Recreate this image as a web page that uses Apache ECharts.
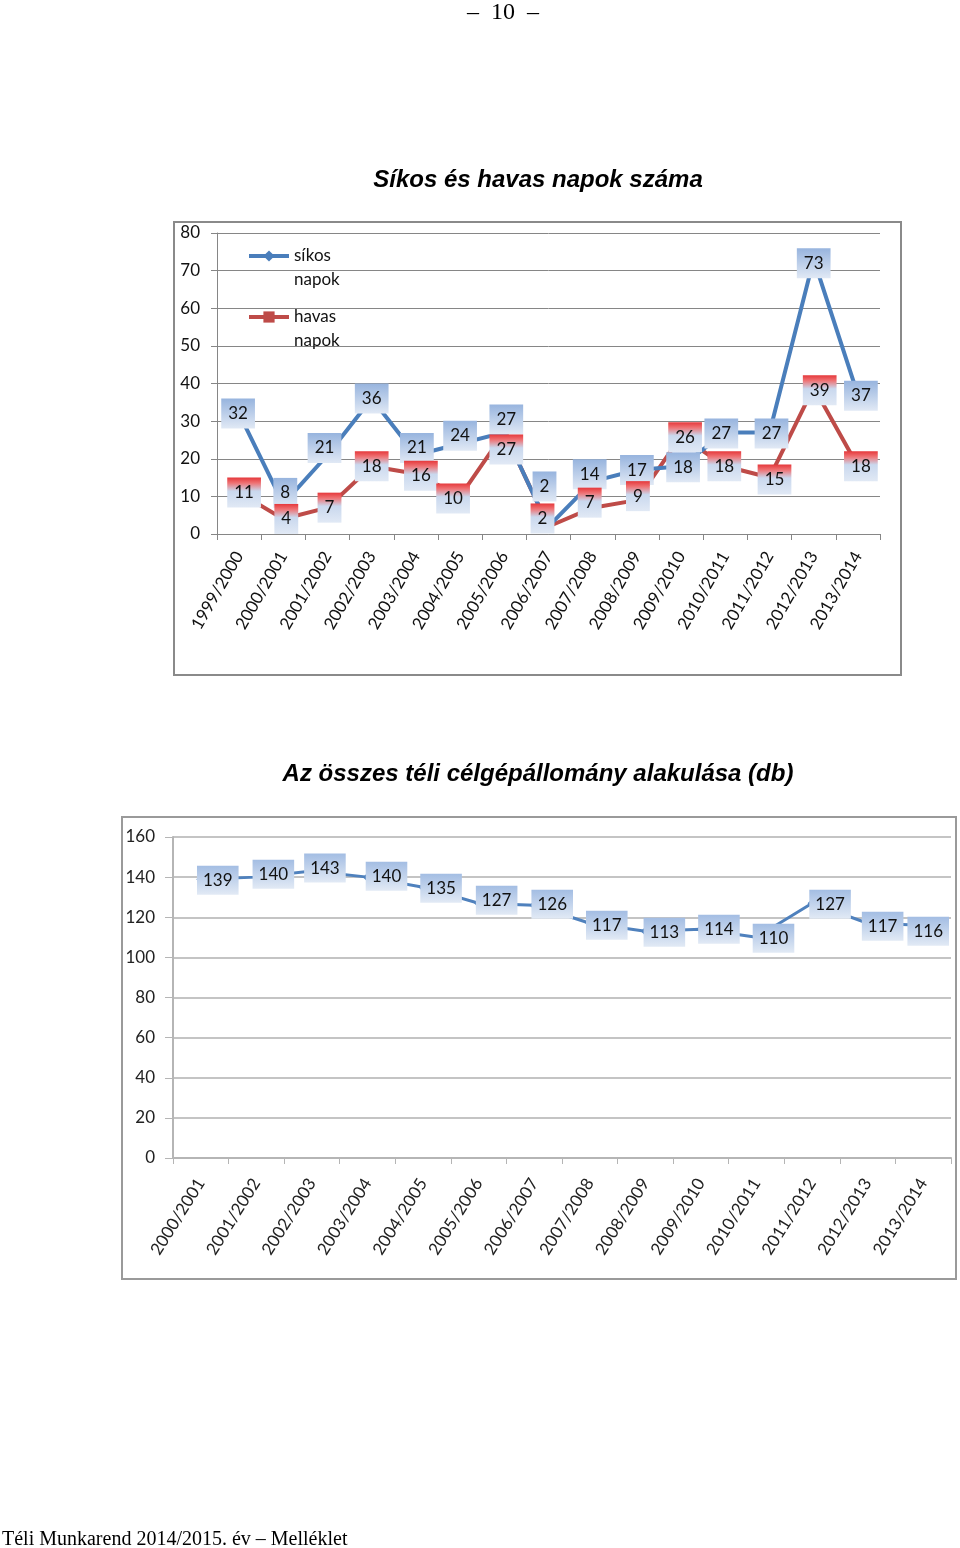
<!DOCTYPE html>
<html><head><meta charset="utf-8">
<script src="https://cdn.jsdelivr.net/npm/echarts@6/dist/echarts.min.js"></script>
<style>html,body{margin:0;padding:0;background:#fff}#c{width:960px;height:1548px}</style>
</head><body><div id="c"></div>
<script>
// ---- data ----
const seasons1 = ['1999/2000','2000/2001','2001/2002','2002/2003','2003/2004','2004/2005','2005/2006','2006/2007','2007/2008','2008/2009','2009/2010','2010/2011','2011/2012','2012/2013','2013/2014'];
const sikosNapok = [32,8,21,36,21,24,27,2,14,17,18,27,27,73,37];
const havasNapok = [11,4,7,18,16,10,27,2,7,9,26,18,15,39,18];
const seasons2 = ['2000/2001','2001/2002','2002/2003','2003/2004','2004/2005','2005/2006','2006/2007','2007/2008','2008/2009','2009/2010','2010/2011','2011/2012','2012/2013','2013/2014'];
const celgepek = [139,140,143,140,135,127,126,117,113,114,110,127,117,116];
const axis1 = {min:0, max:80, step:10};
const axis2 = {min:0, max:160, step:20};

// ---- label placement (style only) ----
const sikosOffsets = [[-1,0],[2,-11],[-3,-7],[0,0],[1,-7],[0,-8],[2,-13],[-4,-40],[-3,-7],[0,0],[2,1],[-4,1],[2,1],[0,4],[3,1]];
const havasOffsets = [[5,0],[3,0],[2,0],[0,0],[5,2],[-7,2],[2,17],[-6,-8],[-3,-5],[1,-4],[4,1],[-1,0],[5,2],[6,3],[3,0]];
const celgepOffsets = [[17,1],[17,-3],[13,-3],[19,-1],[18,1],[18,-3],[18,-1],[17,2],[19,1],[18,0],[17,1],[18,1],[15,3],[5,6]];

const FONT = 'Lato';
const blueGrad = {type:'linear',x:0,y:0,x2:0,y2:1,colorStops:[{offset:0,color:'#97b4de'},{offset:1,color:'#e1e9f5'}]};
const redGrad = {type:'linear',x:0,y:0,x2:0,y2:1,colorStops:[{offset:0,color:'#e5383b'},{offset:0.18,color:'#ef7274'},{offset:0.45,color:'#c9d8ee'},{offset:1,color:'#e1e9f5'}]};
const blueGrad2 = {type:'linear',x:0,y:0,x2:0,y2:1,colorStops:[{offset:0,color:'#a3bde3'},{offset:1,color:'#e2eaf5'}]};

function withOffsets(vals, offs){
  return vals.map((v,i)=>({value:v, label:{offset:offs[i]}}));
}
const baseLabel = (bg)=>({show:true, position:'inside', fontFamily:FONT, fontSize:17, color:'#111',
  backgroundColor:bg, padding:[6,7,6,7], lineHeight:18});
function labelSeries(name, vals, offs, bg){
  return {name:name, type:'line', xAxisIndex:0, yAxisIndex:0, data:withOffsets(vals, offs),
    symbol:'circle', symbolSize:1, itemStyle:{color:'rgba(0,0,0,0)'}, lineStyle:{opacity:0, width:0},
    label:baseLabel(bg), z:10, silent:true, legendHoverLink:false, emphasis:{disabled:true}};
}

const chart = echarts.init(document.getElementById('c'), null, {renderer:'canvas'});
const grayAxis = '#868686';
chart.setOption({
  backgroundColor:'#fff',
  animation:false,
  graphic:[
    {type:'rect', shape:{x:174,y:222,width:727,height:453}, style:{fill:'none',stroke:'#8a8a8a',lineWidth:2}, z:0},
    {type:'rect', shape:{x:122,y:817,width:834,height:462}, style:{fill:'none',stroke:'#9a9a9a',lineWidth:2}, z:0},
    {type:'text', x:503, y:13, style:{text:'–  10  –', fontFamily:'Liberation Serif', fontSize:24, fill:'#000', align:'center', verticalAlign:'middle'}},
    {type:'text', x:538, y:180, style:{text:'Síkos és havas napok száma', fontFamily:'Liberation Sans', fontSize:24, fontWeight:'bold', fontStyle:'italic', fill:'#000', align:'center', verticalAlign:'middle'}},
    {type:'text', x:538, y:774, style:{text:'Az összes téli célgépállomány alakulása (db)', fontFamily:'Liberation Sans', fontSize:24, fontWeight:'bold', fontStyle:'italic', fill:'#000', align:'center', verticalAlign:'middle'}},
    {type:'text', x:2, y:1540, style:{text:'Téli Munkarend 2014/2015. év – Melléklet', fontFamily:'Liberation Serif', fontSize:20, fill:'#000', align:'left', verticalAlign:'middle'}}
  ],
  legend:{
    show:true, orient:'vertical', left:247, top:220, padding:0, itemGap:-11,
    itemWidth:40, itemHeight:14,
    data:['síkos\nnapok','havas\nnapok'],
    formatter:(n)=>'\n'+n,
    lineStyle:{width:4},
    textStyle:{fontFamily:FONT, fontSize:17, color:'#111', lineHeight:24}
  },
  grid:[
    {left:217, top:233, width:663, height:301, outerBoundsMode:'none', containLabel:false},
    {left:173, top:837, width:778, height:321, outerBoundsMode:'none', containLabel:false}
  ],
  xAxis:[
    {type:'category', gridIndex:0, data:seasons1, boundaryGap:true,
     axisLine:{show:true, lineStyle:{color:grayAxis, width:1}},
     axisTick:{show:true, length:6, lineStyle:{color:grayAxis}},
     axisLabel:{interval:0, rotate:60, margin:19, fontFamily:FONT, fontSize:17, color:'#111'},
     splitLine:{show:false}},
    {type:'category', gridIndex:1, data:seasons2, boundaryGap:true,
     axisLine:{show:true, lineStyle:{color:'#b5b5b5', width:2}},
     axisTick:{show:true, length:6, lineStyle:{color:'#b5b5b5', width:1}},
     axisLabel:{interval:0, rotate:58, margin:22, fontFamily:FONT, fontSize:17, color:'#222'},
     splitLine:{show:false}}
  ],
  yAxis:[
    {type:'value', gridIndex:0, min:axis1.min, max:axis1.max, interval:axis1.step,
     axisLine:{show:true, lineStyle:{color:grayAxis, width:1}},
     axisTick:{show:true, length:6, lineStyle:{color:grayAxis}},
     axisLabel:{margin:17, fontFamily:FONT, fontSize:17, color:'#111'},
     splitLine:{show:true, lineStyle:{color:grayAxis, width:1}}},
    {type:'value', gridIndex:1, min:axis2.min, max:axis2.max, interval:axis2.step,
     axisLine:{show:true, lineStyle:{color:'#b5b5b5', width:2}},
     axisTick:{show:true, length:8, lineStyle:{color:'#b5b5b5', width:1}},
     axisLabel:{margin:18, fontFamily:FONT, fontSize:17, color:'#222'},
     splitLine:{show:true, lineStyle:{color:'#c4c4c4', width:2}}}
  ],
  series:[
    {name:'síkos\nnapok', type:'line', xAxisIndex:0, yAxisIndex:0,
     data:sikosNapok,
     symbol:'diamond', symbolSize:10, itemStyle:{color:'#4a7ebb'},
     lineStyle:{color:'#4a7ebb', width:4}, label:{show:false}, z:3},
    {name:'havas\nnapok', type:'line', xAxisIndex:0, yAxisIndex:0,
     data:havasNapok,
     symbol:'rect', symbolSize:9, itemStyle:{color:'#be4b48'},
     lineStyle:{color:'#be4b48', width:4}, label:{show:false}, z:2},
    labelSeries('sikosLabels', sikosNapok, sikosOffsets, blueGrad),
    labelSeries('havasLabels', havasNapok, havasOffsets, redGrad),
    {name:'célgép', type:'line', xAxisIndex:1, yAxisIndex:1,
     data:withOffsets(celgepek, celgepOffsets),
     symbol:'diamond', symbolSize:9, itemStyle:{color:'#4f81bd'},
     lineStyle:{color:'#4f81bd', width:3},
     label:Object.assign(baseLabel(blueGrad2), {padding:[6,6,5,6]}), z:2}
  ]
});
</script></body></html>
